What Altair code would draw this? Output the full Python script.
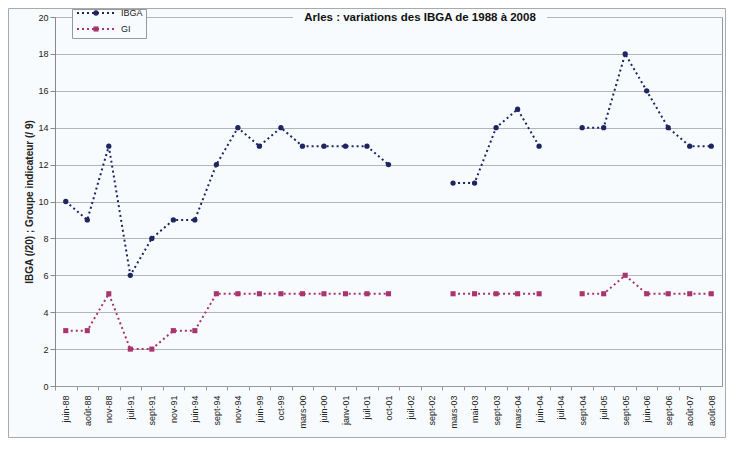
import altair as alt
import pandas as pd

dates = ["juin-88", "août-88", "nov-88", "juil-91", "sept-91", "nov-91", "juin-94",
         "sept-94", "nov-94", "juin-99", "oct-99", "mars-00", "juin-00", "janv-01",
         "juil-01", "oct-01", "juil-02", "sept-02", "mars-03", "mai-03", "sept-03",
         "mars-04", "juin-04", "juil-04", "sept-04", "juil-05", "sept-05", "juin-06",
         "sept-06", "août-07", "août-08"]
ibga = [10, 9, 13, 6, 8, 9, 9, 12, 14, 13, 14, 13, 13, 13, 13, 12, None, None,
        11, 11, 14, 15, 13, None, 14, 14, 18, 16, 14, 13, 13]
gi = [3, 3, 5, 2, 2, 3, 3, 5, 5, 5, 5, 5, 5, 5, 5, 5, None, None,
      5, 5, 5, 5, 5, None, 5, 5, 6, 5, 5, 5, 5]
series_names = ["IBGA", "GI"]
series_colors = ["#1e2560", "#a8356f"]
title_text = "Arles : variations des IBGA de 1988 à 2008"
y_title = "IBGA (/20) ; Groupe indicateur (/ 9)"

rows = []
for i, d in enumerate(dates):
    rows.append({"date": d, "serie": "IBGA", "val": ibga[i]})
    rows.append({"date": d, "serie": "GI", "val": gi[i]})
df = pd.DataFrame(rows)

W, H = 667, 369
step = W / len(dates)
FONT = "Liberation Sans"

x_enc = alt.X("date:N", sort=dates, scale=alt.Scale(type="point", padding=0.5),
              axis=alt.Axis(title=None, labelAngle=-90, labelFontSize=9, labelColor="#222",
                            labelFont=FONT, tickOffset=-step / 2, labelOffset=step / 2,
                            tickColor="#999", domainColor="#999", tickSize=4,
                            labelPadding=5, grid=False))
y_enc = alt.Y("val:Q", scale=alt.Scale(domain=[0, 20], nice=False),
              axis=alt.Axis(title=y_title, values=list(range(0, 21, 2)), titleFontSize=10,
                            titleFont=FONT, titleFontWeight="bold", titleColor="#222",
                            labelFontSize=9, labelFont=FONT, labelColor="#222",
                            gridColor="#b5b5b5", gridWidth=1, tickColor="#888",
                            domainColor="#888", tickSize=5, titlePadding=3))
color_enc = alt.Color("serie:N", scale=alt.Scale(domain=series_names, range=series_colors),
                      legend=None)

base = alt.Chart(df)
lines = base.mark_line(strokeDash=[2, 3], strokeWidth=2,
                       invalid="break-paths-show-domains").encode(
    x=x_enc, y=y_enc, color=color_enc, detail="serie:N")
pts_ibga = base.transform_filter("datum.serie == 'IBGA' && isValid(datum.val)").mark_point(
    shape="circle", filled=True, size=28, opacity=1).encode(x=x_enc, y=y_enc, color=color_enc)
pts_gi = base.transform_filter("datum.serie == 'GI' && isValid(datum.val)").mark_point(
    shape="square", filled=True, size=26, opacity=1).encode(x=x_enc, y=y_enc, color=color_enc)

one = alt.Chart(pd.DataFrame({"t": [title_text]}))

# outer frame
frame = one.mark_rect(fill=None, stroke="#aaa", strokeWidth=1).encode(
    x=alt.value(-46.5), x2=alt.value(W + 3.5), y=alt.value(-8.5), y2=alt.value(H + 51.5))

# chart title with white backing
title_bg = one.mark_rect(fill="#f8fbfd").encode(
    x=alt.value(238), x2=alt.value(492), y=alt.value(-7), y2=alt.value(7))
title = one.mark_text(font=FONT, fontSize=11.5, fontWeight="bold", color="#111",
                      align="center", baseline="middle").encode(
    x=alt.value(365), y=alt.value(0.5), text="t:N")

# legend box
leg_box = one.mark_rect(fill="#f8fbfd", stroke="#999", strokeWidth=1).encode(
    x=alt.value(17.5), x2=alt.value(91.5), y=alt.value(-7.5), y2=alt.value(21.5))
leg_df = pd.DataFrame({"serie": series_names, "ly": [-4, 12]})
leg = alt.Chart(leg_df)
leg_color = alt.Color("serie:N", scale=alt.Scale(domain=series_names, range=series_colors),
                      legend=None)
leg_line = leg.mark_rule(strokeDash=[2, 3], strokeWidth=2).encode(
    x=alt.value(22), x2=alt.value(62), y=alt.Y("ly:Q", scale=None), color=leg_color)
leg_pt1 = leg.transform_filter("datum.serie == 'IBGA'").mark_point(
    shape="circle", filled=True, size=28, opacity=1).encode(
    x=alt.value(41), y=alt.Y("ly:Q", scale=None), color=leg_color)
leg_pt2 = leg.transform_filter("datum.serie == 'GI'").mark_point(
    shape="square", filled=True, size=26, opacity=1).encode(
    x=alt.value(41), y=alt.Y("ly:Q", scale=None), color=leg_color)
leg_txt = leg.mark_text(font=FONT, fontSize=9, color="#222", align="left",
                        baseline="middle").encode(
    x=alt.value(66), y=alt.Y("ly:Q", scale=None), text="serie:N")

chart = alt.layer(frame, lines, pts_ibga, pts_gi, title_bg, title,
                  leg_box, leg_line, leg_pt1, leg_pt2, leg_txt).resolve_scale(
    color="shared").properties(
    width=W, height=H,
    autosize=alt.AutoSizeParams(type="none"),
    padding={"left": 47, "top": 9, "right": 4, "bottom": 52},
    background="#f8fbfd",
).configure_view(stroke="#999", strokeWidth=1)

chart.save("out.html", embed_options={"renderer": "svg", "actions": False})
